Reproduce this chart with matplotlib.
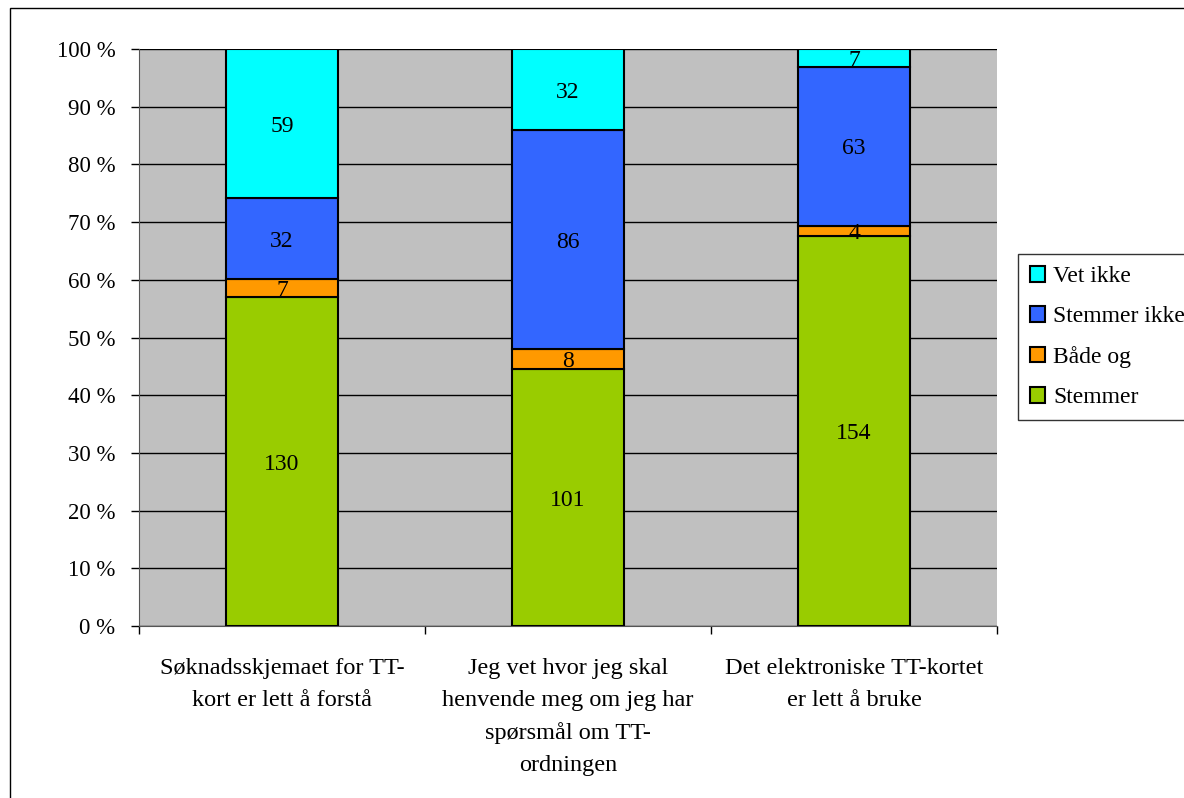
import matplotlib.pyplot as plt
from matplotlib.patches import Rectangle
import numpy as np

plt.rcParams['font.family'] = ['Liberation Serif', 'DejaVu Serif']

categories = [
    "Søknadsskjemaet for TT-\nkort er lett å forstå",
    "Jeg vet hvor jeg skal\nhenvende meg om jeg har\nspørsmål om TT-\nordningen",
    "Det elektroniske TT-kortet\ner lett å bruke",
]
series_names = ["Stemmer", "Både og", "Stemmer ikke", "Vet ikke"]
stemmer = [130, 101, 154]
bade_og = [7, 8, 4]
stemmer_ikke = [32, 86, 63]
vet_ikke = [59, 32, 7]
colors = ["#99CC00", "#FF9900", "#3366FF", "#00FFFF"]

counts = np.array([stemmer, bade_og, stemmer_ikke, vet_ikke], dtype=float)
totals = counts.sum(axis=0)
shares = counts / totals * 100

fig = plt.figure(figsize=(11.84, 7.98), dpi=100)
# outer chart frame, runs off the right and bottom edges
fig.patches.append(Rectangle((10 / 1184, -0.05), 1.1, 1.05 - 8 / 798, transform=fig.transFigure,
                             fill=False, edgecolor='black', linewidth=1.0))

ax = fig.add_axes([139 / 1184, 1 - 626 / 798, (997 - 139) / 1184, (626 - 49) / 798])
ax.set_facecolor('#C0C0C0')

x = np.arange(len(categories))
bottom = np.zeros(len(categories))
for i, name in enumerate(series_names):
    ax.bar(x, shares[i], 0.395, bottom=bottom, color=colors[i], edgecolor='black',
           linewidth=1.5, label=name, zorder=3)
    for j in range(len(categories)):
        ax.text(x[j], bottom[j] + shares[i][j] / 2, f"{int(counts[i][j])}",
                ha='center', va='center_baseline', fontsize=17, zorder=4)
    bottom += shares[i]

ax.set_xlim(-0.5, len(categories) - 0.5)
ax.set_ylim(0, 100)
ax.set_yticks(np.arange(0, 101, 10))
ax.set_yticklabels([f"{v} %" for v in range(0, 101, 10)], fontsize=16.5)
ax.yaxis.grid(True, color='black', linewidth=1.0, zorder=1)
ax.set_axisbelow(True)
ax.tick_params(axis='y', direction='out', length=6, width=1, pad=11)

ax.set_xticks(x)
ax.set_xticklabels(categories, fontsize=17.5, linespacing=1.68)
ax.tick_params(axis='x', length=0, pad=23)
ax.set_xticks(np.arange(-0.5, len(categories)), minor=True)
ax.tick_params(axis='x', which='minor', direction='out', length=6, width=1)

for side in ['top', 'right']:
    ax.spines[side].set_visible(False)
ax.spines['left'].set_color('#555555')
ax.spines['bottom'].set_color('#555555')

handles, labels = ax.get_legend_handles_labels()
leg = fig.legend(handles[::-1], labels[::-1], loc='upper left',
                 bbox_to_anchor=(1018 / 1184, 1 - 254 / 798), fontsize=17,
                 frameon=True, fancybox=False, edgecolor='black', handlelength=0.65,
                 handleheight=0.65, handletextpad=0.35, labelspacing=0.8, borderpad=0.5,
                 borderaxespad=0)
leg.get_frame().set_linewidth(1.0)

fig.savefig('out.png', dpi=100)
